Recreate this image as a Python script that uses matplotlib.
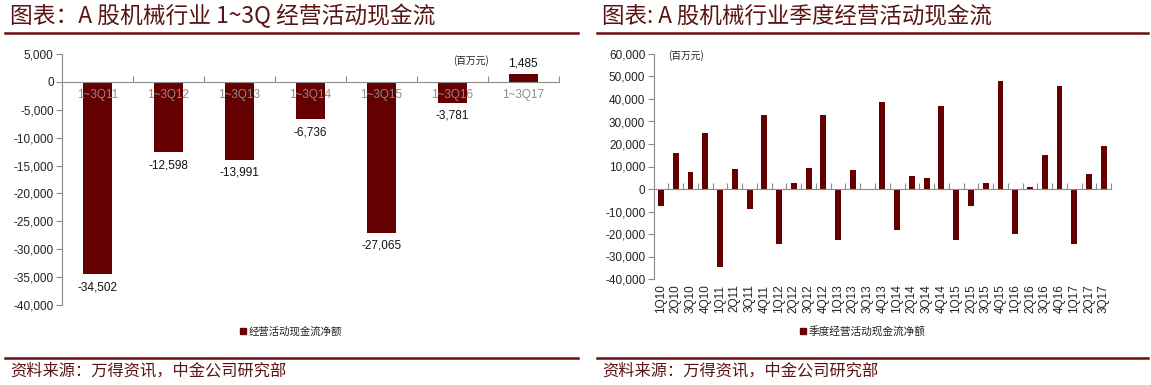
import matplotlib
matplotlib.use("Agg")
import matplotlib.pyplot as plt
from matplotlib.lines import Line2D
from matplotlib.patches import Rectangle
import numpy as np

plt.rcParams['font.family'] = ['Liberation Sans', 'Noto Sans CJK SC', 'DejaVu Sans']

# ---------------- data ----------------
left_categories = ["1~3Q11", "1~3Q12", "1~3Q13", "1~3Q14", "1~3Q15", "1~3Q16", "1~3Q17"]
left_values = [-34502, -12598, -13991, -6736, -27065, -3781, 1485]

right_categories = ["1Q10", "2Q10", "3Q10", "4Q10",
                    "1Q11", "2Q11", "3Q11", "4Q11",
                    "1Q12", "2Q12", "3Q12", "4Q12",
                    "1Q13", "2Q13", "3Q13", "4Q13",
                    "1Q14", "2Q14", "3Q14", "4Q14",
                    "1Q15", "2Q15", "3Q15", "4Q15",
                    "1Q16", "2Q16", "3Q16", "4Q16",
                    "1Q17", "2Q17", "3Q17"]
right_values = [-7500, 16000, 7500, 25000,
                -34500, 9000, -9000, 33000,
                -24600, 2600, 9400, 33000,
                -22600, 8500, 100, 38800,
                -18000, 5800, 5000, 36700,
                -22500, -7600, 2600, 47800,
                -19900, 700, 15300, 45700,
                -24500, 6700, 19300]

left_ticks = [5000, 0, -5000, -10000, -15000, -20000, -25000, -30000, -35000, -40000]
right_ticks = [60000, 50000, 40000, 30000, 20000, 10000, 0, -10000, -20000, -30000, -40000]

left_title = "图表：A 股机械行业 1~3Q 经营活动现金流"
right_title = "图表: A 股机械行业季度经营活动现金流"
left_legend = "经营活动现金流净额"
right_legend = "季度经营活动现金流净额"
unit = "(百万元)"
source = "资料来源：万得资讯，中金公司研究部"

# ---------------- style ----------------
W, H = 1151, 385
BAR = "#640000"
DARK = "#5a1414"
GRAY = "#8c8c8c"
CJK = ['Noto Sans CJK SC', 'DejaVu Sans']

fig = plt.figure(figsize=(W / 100, H / 100), dpi=100)


def fx(px):
    return px / W


def fy(py):
    return 1 - py / H


def fmt(v):
    return f"{v:,.0f}"


def style_axes(ax, ticks, n):
    for s in ["top", "right", "left"]:
        ax.spines[s].set_visible(s == "left")
    ax.spines["left"].set_color(GRAY)
    ax.spines["bottom"].set_position(("data", 0))
    ax.spines["bottom"].set_color(GRAY)
    ax.set_yticks(ticks)
    ax.set_yticklabels([fmt(t) for t in ticks], fontsize=8.5, color="#222222")
    ax.tick_params(axis="y", direction="out", length=4, color=GRAY, pad=2)
    ax.set_xticks(np.arange(0.5, n, 1.0))
    ax.set_xticklabels([])
    ax.tick_params(axis="x", direction="in", length=4, color=GRAY)
    ax.set_xlim(-0.5, n - 0.5)
    ax.patch.set_alpha(0)


# ---------------- left chart ----------------
axL = fig.add_axes([fx(62), fy(305), fx(558.7) - fx(62), fy(54) - fy(305)])
xl = np.arange(len(left_categories))
axL.bar(xl, left_values, width=0.41, color=BAR, zorder=2)
axL.set_ylim(-40000, 5000)
style_axes(axL, left_ticks, len(left_categories))
for i, (c, v) in enumerate(zip(left_categories, left_values)):
    axL.annotate(c, (i, 0), xytext=(0, -5), textcoords="offset points",
                 ha="center", va="top", fontsize=8.5, color=GRAY, zorder=3)
    if v < 0:
        axL.annotate(fmt(v), (i, v), xytext=(0, -5), textcoords="offset points",
                     ha="center", va="top", fontsize=8.5, color="#111111")
    else:
        axL.annotate(fmt(v), (i, v), xytext=(0, 3), textcoords="offset points",
                     ha="center", va="bottom", fontsize=8.5, color="#111111")
fig.text(fx(471), fy(61), unit, fontsize=7, family=CJK, ha="center", va="center",
         color="#222222")

# ---------------- right chart ----------------
axR = fig.add_axes([fx(653.6), fy(279), fx(1111.2) - fx(653.6), fy(54) - fy(279)])
xr = np.arange(len(right_categories))
axR.bar(xr, right_values, width=0.4, color=BAR, zorder=2)
axR.set_ylim(-40000, 60000)
style_axes(axR, right_ticks, len(right_categories))
for i, c in enumerate(right_categories):
    axR.annotate(c, (i, -40000), xytext=(0, -4), textcoords="offset points",
                 ha="center", va="top", rotation=90, fontsize=8.5, color="#222222")
fig.text(fx(686), fy(56), unit, fontsize=7, family=CJK, ha="center", va="center",
         color="#222222")

# ---------------- titles, rules, legends, sources ----------------
fig.text(fx(10), fy(16), left_title, fontsize=16.4, family=CJK, color=DARK,
         ha="left", va="center")
fig.text(fx(602), fy(16), right_title, fontsize=16.2, family=CJK, color=DARK,
         ha="left", va="center")

for x0, x1 in [(5, 578), (597, 1148)]:
    for y in (33, 358):
        fig.add_artist(Line2D([fx(x0), fx(x1)], [fy(y), fy(y)], color="#6a1010",
                              linewidth=1.8, transform=fig.transFigure))

fig.text(fx(10), fy(371), source, fontsize=11.7, family=CJK, color=DARK,
         ha="left", va="center")
fig.text(fx(602), fy(371), source, fontsize=11.7, family=CJK, color=DARK,
         ha="left", va="center")

for sx, label, fs in [(240, left_legend, 7.5), (800, right_legend, 7.7)]:
    fig.add_artist(Rectangle((fx(sx), fy(334)), fx(6), fy(328) - fy(334),
                             color=BAR, transform=fig.transFigure))
    fig.text(fx(sx + 9), fy(331), label, fontsize=fs, family=CJK, color="#222222",
             ha="left", va="center")

fig.savefig("out.png", dpi=100)
